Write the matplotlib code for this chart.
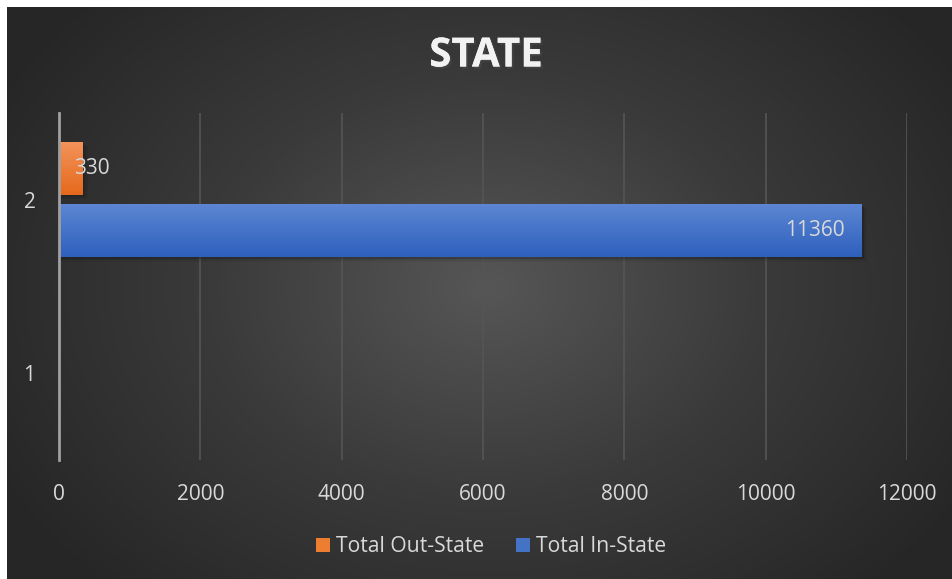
import numpy as np
import matplotlib.pyplot as plt
from matplotlib.patches import Rectangle
import matplotlib.patheffects as pe
from matplotlib.colors import LinearSegmentedColormap

categories = ['1', '2']
out_state = [0, 330]
in_state = [0, 11360]
series_names = ['Total Out-State', 'Total In-State']
x_ticks = [0, 2000, 4000, 6000, 8000, 10000, 12000]

txt = '#D9D9D9'
plt.rcParams['font.family'] = ['Open Sans', 'DejaVu Sans']

fig = plt.figure(figsize=(9.52, 5.79), dpi=100)
fig.patch.set_facecolor('white')

# dark panel with radial gradient
bg = fig.add_axes([7 / 952, 0, 945 / 952, 572 / 579])
bg.set_axis_off()
yy, xx = np.mgrid[0:572, 0:945]
r = np.sqrt(((xx - 480) / 560) ** 2 + ((yy - 280) / 420) ** 2)
r = np.clip(r, 0, 1)
bg_cmap = LinearSegmentedColormap.from_list('bg', ['#565656', '#3a3a3a', '#262626'])
bg.imshow(r, cmap=bg_cmap, aspect='auto', extent=[0, 1, 0, 1], origin='upper')
bg.set_xlim(0, 1)
bg.set_ylim(0, 1)

ax = fig.add_axes([59 / 952, 1 - 460 / 579, 848 / 952, 347 / 579])
ax.set_facecolor('none')

y = np.arange(len(categories))
h = 0.305
off = 0.18


def grad_bar(ax, yc, val, c_top, c_bot):
    if val <= 0:
        return
    # soft shadow
    for k, a in enumerate([0.12, 0.08, 0.05]):
        ax.add_patch(Rectangle((0, yc - h / 2 - 0.008 * (k + 1)), val + 25 * (k + 1), h,
                               color='black', alpha=a, lw=0, zorder=2))
    cm = LinearSegmentedColormap.from_list('g', [c_bot, c_top])
    g = np.linspace(0, 1, 64).reshape(-1, 1)
    ax.imshow(g, cmap=cm, aspect='auto', origin='lower',
              extent=[0, val, yc - h / 2, yc + h / 2], zorder=3)


for i in range(len(categories)):
    grad_bar(ax, y[i] + off, out_state[i], '#F3935A', '#E5691C')
    grad_bar(ax, y[i] - off, in_state[i], '#5C86D2', '#2E60BD')

# legend proxies
ax.bar(0, 0, color='#ED7D31', label=series_names[0])
ax.bar(0, 0, color='#4472C4', label=series_names[1])

for i in range(len(categories)):
    if out_state[i]:
        ax.annotate(str(out_state[i]), (out_state[i], y[i] + off), xytext=(-6, 0),
                    textcoords='offset points', ha='left', va='center',
                    color=txt, fontsize=15, zorder=5)
    if in_state[i]:
        ax.annotate(str(in_state[i]), (in_state[i], y[i] - off), xytext=(-12, 0),
                    textcoords='offset points', ha='right', va='center',
                    color=txt, fontsize=15, zorder=5)

ax.set_xlim(0, 12000)
ax.set_ylim(-0.5, 1.5)
ax.set_xticks(x_ticks)
ax.set_yticks(y)
ax.set_yticklabels(categories)
ax.grid(axis='x', color='#555555', lw=1.2, zorder=0)
ax.set_axisbelow(True)
for s in ['top', 'right', 'bottom']:
    ax.spines[s].set_visible(False)
ax.spines['left'].set_color('#A0A0A0')
ax.spines['left'].set_linewidth(2)
ax.spines['left'].set_zorder(4)
ax.tick_params(length=0, colors=txt, labelsize=15)
ax.tick_params(axis='x', pad=17.5)
ax.tick_params(axis='y', pad=17)

fig.text(486 / 952, 1 - 56 / 579, 'STATE', ha='center', va='center', color='#F2F2F2',
         fontsize=29, fontweight='bold',
         path_effects=[pe.withSimplePatchShadow(offset=(1.5, -1.5), alpha=0.6), pe.Normal()])

fig.legend(loc='center', bbox_to_anchor=(491 / 952, 1 - 547 / 579), ncol=2, frameon=False,
           fontsize=15.2, labelcolor=txt, handlelength=0.65, handleheight=0.65,
           handletextpad=0.3, columnspacing=1.5)

fig.savefig('out.png', dpi=100)
